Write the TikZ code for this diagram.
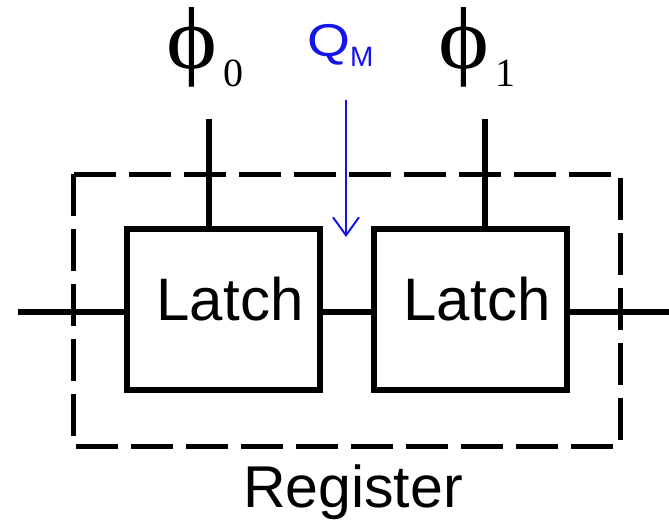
\documentclass[tikz,border=0pt]{standalone}
\usepackage{fontspec}
\setmainfont{Liberation Sans}
\newfontfamily\phifont{Liberation Serif}
\usepackage{xcolor}
\usetikzlibrary{positioning,arrows.meta,calc}
\definecolor{qblue}{RGB}{20,20,235}
\tikzset{
  latch/.style={draw, line width=6.5pt, minimum width=193pt, minimum height=161pt, inner sep=0pt},
  latchtext/.style={font=\fontsize{60}{60}\selectfont, inner sep=0pt, anchor=base},
  wire/.style={line width=6pt},
  reg/.style={line width=5pt, dash pattern=on 42pt off 13pt},
  clk/.style={font=\phifont\fontsize{88}{88}\selectfont, inner sep=0pt, anchor=base},
  clksub/.style={font=\phifont\fontsize{40}{40}\selectfont, inner sep=0pt, anchor=base},
  probe/.style={qblue, line width=2pt, -{Straight Barb[length=18pt, width=26pt, line width=2pt]}},
}

\begin{document}
\begin{tikzpicture}[x=1pt, y=-1pt]
  \useasboundingbox (0,0) rectangle (669,524);
  % register outline
  \draw[reg] (73,174) rectangle (620,446);
  % the two latches
  \node[latch] (l0) at (223.5,309.5) {};
  \node[latch] (l1) at (470.5,309.5) {};
  \node[latchtext] (t0) at (230,320) {Latch};
  \node[latchtext] (t1) at (477,320) {Latch};
  % data path
  \coordinate (din) at (18,312);
  \coordinate (dout) at (669,312);
  \draw[wire] (din) -- (din -| l0.west);
  \draw[wire] (l0.east |- din) -- (l1.west |- din);
  \draw[wire] (l1.east |- din) -- (dout);
  % clocks
  \coordinate (c0) at (209,119);
  \coordinate (c1) at (485,119);
  \draw[wire] (c0) -- (c0 |- l0.north);
  \draw[wire] (c1) -- (c1 |- l1.north);
  \node[clk] (phi0) at (192,69) {\scalebox{1.1}[1]{ϕ}};
  \node[clksub] (sub0) at (233,87) {0};
  \node[clk] (phi1) at (464,69) {\scalebox{1.1}[1]{ϕ}};
  \node[clksub] (sub1) at (505,87) {1};
  % probe point
  \node[qblue, anchor=base west, inner sep=0pt, font=\fontsize{46}{46}\selectfont] (qm) at (307,57)
    {\scalebox{1.2}[1]{Q}\raisebox{-10pt}{\fontsize{28}{28}\selectfont M}};
  \coordinate (qtop) at (346,100);
  \coordinate (qtip) at (346,237);
  \draw[probe] (qtop) -- (qtip);
  % label
  \node[anchor=base, font=\fontsize{59}{59}\selectfont] (regname) at (353,507) {Register};
\end{tikzpicture}
\end{document}
